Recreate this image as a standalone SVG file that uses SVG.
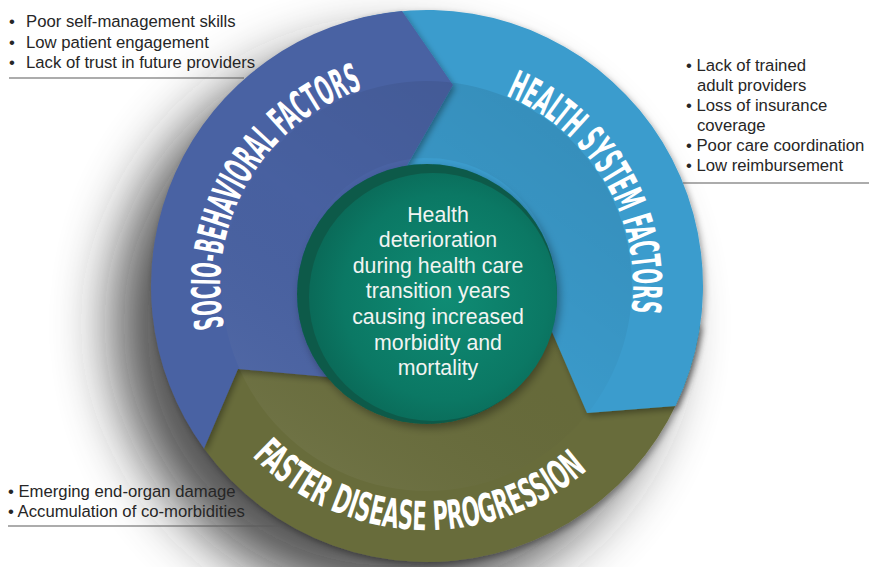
<svg xmlns="http://www.w3.org/2000/svg" width="869" height="567" viewBox="0 0 869 567">
<defs>
<style>
.note{font-family:"Liberation Sans",Arial,sans-serif;font-size:16.7px;fill:#262626}
.arc{font-family:"Liberation Sans Narrow","DejaVu Sans Condensed","Liberation Sans",sans-serif;font-weight:bold;font-size:40px;fill:#ffffff}
.core{font-family:"Liberation Sans",Arial,sans-serif;font-size:21.3px;fill:#f2f4f2;text-anchor:middle}
.rule{stroke:#5a5a5a;stroke-width:1.2;fill:none}
.seg{filter:url(#segShadow)}
</style>
<filter id="bgShadow" x="-40%" y="-40%" width="180%" height="180%">
<feGaussianBlur stdDeviation="30"/>
</filter>
<filter id="segShadow" x="-20%" y="-20%" width="140%" height="140%">
<feDropShadow dx="2" dy="3" stdDeviation="3" flood-color="#000" flood-opacity="0.35"/>
</filter>
<filter id="coreShadow" x="-20%" y="-20%" width="140%" height="140%">
<feDropShadow dx="3" dy="4" stdDeviation="4" flood-color="#000" flood-opacity="0.35"/>
</filter>
<linearGradient id="bandGrad" x1="0.85" y1="0" x2="0.15" y2="1">
<stop offset="0" stop-color="#000" stop-opacity="0.10"/>
<stop offset="0.5" stop-color="#000" stop-opacity="0.02"/>
<stop offset="1" stop-color="#fff" stop-opacity="0.07"/>
</linearGradient>
<radialGradient id="greenGrad" cx="0.55" cy="0.5" r="0.55">
<stop offset="0" stop-color="#0f8c74"/>
<stop offset="0.75" stop-color="#0b7864"/>
<stop offset="1" stop-color="#0a6a58"/>
</radialGradient>
<path id="pSocio" d="M291.2,442.2 A207,207 0 0 1 494.4,90.3" fill="none"/>
<path id="pHealth" d="M391.2,83.1 A206,206 0 0 1 584.8,418.4" fill="none"/>
<path id="pDisease" d="M197.7,369.5 A244,244 0 0 0 656.3,369.5" fill="none"/>
</defs>
<rect width="869" height="567" fill="#ffffff"/>
<circle cx="390" cy="324" r="276" fill="#222" opacity="0.78" filter="url(#bgShadow)"/>

<g id="segment-disease">
<path class="seg" d="M427,286 L700.3,324.4 A276,276 0 0 1 204,448.6 L238,369 L345,378.6 Z" fill="#686c3b"/>
</g>
<g id="segment-health">
<path class="seg" d="M427,286 L355.6,19.4 A276,276 0 0 1 675.5,406.1 L587,413 L546,318 Z" fill="#3a9ccd"/>
</g>
<g id="segment-socio">
<path class="seg" d="M427,286 L345,378.6 L238,369 L204,448.6 A276,276 0 0 1 402,11.1 L453,85 L403,172.5 Z" fill="#4a62a3"/>
</g>
<path id="band" fill-rule="evenodd" fill="url(#bandGrad)" d="M427,81 A205,205 0 1 1 427,491 A205,205 0 1 1 427,81 Z M427,158 A128,128 0 1 0 427,414 A128,128 0 1 0 427,158 Z"/>

<g id="label-socio">
<text class="arc"><textPath href="#pSocio" startOffset="135.5" textLength="301" lengthAdjust="spacingAndGlyphs">SOCIO-BEHAVIORAL FACTORS</textPath></text>
</g>
<g id="label-health">
<text class="arc"><textPath href="#pHealth" startOffset="116.8" textLength="269" lengthAdjust="spacingAndGlyphs">HEALTH SYSTEM FACTORS</textPath></text>
</g>
<g id="label-disease">
<text class="arc"><textPath href="#pDisease" startOffset="103" textLength="370" lengthAdjust="spacingAndGlyphs">FASTER DISEASE PROGRESSION</textPath></text>
</g>

<g id="center">
<circle cx="427" cy="294" r="130" fill="#095a4a" filter="url(#coreShadow)"/>
<circle cx="433" cy="297" r="124" fill="url(#greenGrad)"/>
<text class="core" x="438" y="221.7">Health</text>
<text class="core" x="438" y="247.3">deterioration</text>
<text class="core" x="438" y="272.8">during health care</text>
<text class="core" x="438" y="298.4">transition years</text>
<text class="core" x="438" y="324">causing increased</text>
<text class="core" x="438" y="349.5">morbidity and</text>
<text class="core" x="438" y="375">mortality</text>
</g>

<g id="connectors">
<line class="rule" x1="9" y1="78" x2="244" y2="78"/>
<line class="rule" x1="683" y1="183" x2="869" y2="183"/>
<line class="rule" x1="8" y1="526" x2="281" y2="526"/>
</g>

<g id="notes-socio">
<text class="note" x="9" y="27">•</text><text class="note" x="26" y="27">Poor self-management skills</text>
<text class="note" x="9" y="47.7">•</text><text class="note" x="26" y="47.7">Low patient engagement</text>
<text class="note" x="9" y="68.3">•</text><text class="note" x="26" y="68.3">Lack of trust in future providers</text>
</g>
<g id="notes-health">
<text class="note" x="686" y="70.5">• Lack of trained</text>
<text class="note" x="697" y="90.5">adult providers</text>
<text class="note" x="686" y="110.8">• Loss of insurance</text>
<text class="note" x="697" y="131">coverage</text>
<text class="note" x="686" y="151.2">• Poor care coordination</text>
<text class="note" x="686" y="171">• Low reimbursement</text>
</g>
<g id="notes-disease">
<text class="note" x="8" y="497.3">• Emerging end-organ damage</text>
<text class="note" x="8" y="517.3">• Accumulation of co-morbidities</text>
</g>
</svg>
